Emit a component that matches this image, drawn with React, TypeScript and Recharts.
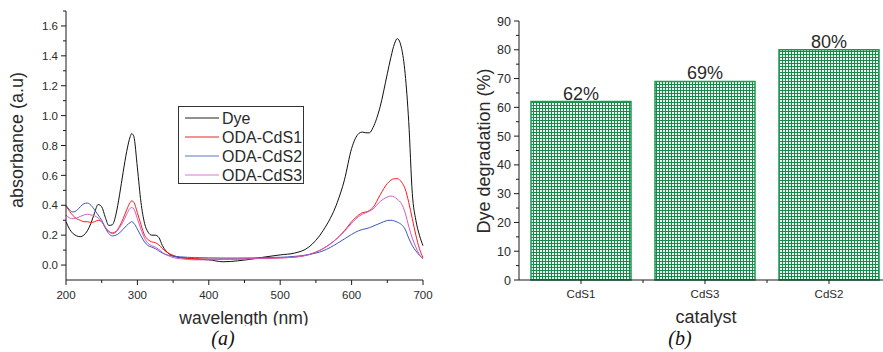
import React from 'react';
import { LineChart, Line, XAxis, YAxis, BarChart, Bar, LabelList } from 'recharts';

// ---------- Panel (a) data ----------
const wavelengths = [200,205,210,215,220,225,230,235,240,245,250,255,260,265,270,275,280,285,290,292,295,300,305,310,315,320,325,330,335,340,350,360,370,380,400,420,440,460,480,500,520,540,560,580,590,600,610,615,620,625,630,640,650,655,660,664,670,675,680,685,690,695,700];
const dye = [0.29,0.24,0.21,0.195,0.19,0.20,0.23,0.28,0.35,0.405,0.39,0.32,0.265,0.27,0.34,0.47,0.62,0.76,0.86,0.88,0.86,0.65,0.42,0.28,0.22,0.20,0.20,0.185,0.13,0.095,0.06,0.05,0.045,0.04,0.035,0.022,0.028,0.04,0.055,0.068,0.08,0.12,0.23,0.42,0.57,0.78,0.88,0.89,0.885,0.885,0.92,1.06,1.28,1.39,1.48,1.515,1.45,1.28,0.96,0.48,0.3,0.2,0.13];
const odaCdS1 = [0.395,0.36,0.33,0.31,0.30,0.29,0.29,0.285,0.29,0.30,0.29,0.25,0.225,0.215,0.225,0.26,0.31,0.37,0.42,0.43,0.42,0.35,0.27,0.2,0.17,0.155,0.15,0.135,0.11,0.09,0.065,0.05,0.045,0.043,0.04,0.04,0.04,0.043,0.045,0.048,0.053,0.07,0.11,0.18,0.23,0.29,0.335,0.35,0.355,0.365,0.385,0.47,0.545,0.568,0.578,0.578,0.555,0.51,0.42,0.31,0.2,0.11,0.05];
const odaCdS2 = [0.40,0.37,0.355,0.365,0.39,0.41,0.415,0.40,0.37,0.335,0.30,0.25,0.21,0.195,0.2,0.215,0.24,0.265,0.285,0.29,0.28,0.24,0.195,0.155,0.13,0.12,0.11,0.095,0.08,0.07,0.06,0.055,0.052,0.05,0.048,0.047,0.047,0.048,0.05,0.052,0.058,0.07,0.095,0.145,0.175,0.205,0.23,0.238,0.243,0.25,0.26,0.28,0.298,0.30,0.295,0.287,0.27,0.24,0.18,0.13,0.095,0.065,0.045];
const odaCdS3 = [0.335,0.315,0.31,0.315,0.325,0.335,0.34,0.335,0.33,0.315,0.29,0.255,0.225,0.21,0.22,0.25,0.29,0.34,0.38,0.385,0.375,0.31,0.24,0.18,0.145,0.13,0.12,0.105,0.085,0.07,0.05,0.042,0.038,0.035,0.035,0.038,0.04,0.042,0.045,0.048,0.053,0.07,0.11,0.18,0.225,0.28,0.325,0.34,0.35,0.36,0.375,0.425,0.455,0.462,0.455,0.44,0.41,0.35,0.26,0.18,0.12,0.07,0.04];

const seriesNames = ['Dye', 'ODA-CdS1', 'ODA-CdS2', 'ODA-CdS3'];
const seriesKeys = ['dye', 'cds1', 'cds2', 'cds3'];
const seriesColors = ['#111111', '#ff1a1a', '#3a58bd', '#d05cc4'];
const legendColors = ['#222222', '#e8242c', '#5a78c8', '#d47cc8'];

const xMajorTicks = [200, 300, 400, 500, 600, 700];
const xMinorTicks = [250, 350, 450, 550, 650];
const yMajorTicks = [0, 0.2, 0.4, 0.6, 0.8, 1.0, 1.2, 1.4, 1.6];
const yMinorTicks = [0.1, 0.3, 0.5, 0.7, 0.9, 1.1, 1.3, 1.5, 1.7];

// ---------- Panel (b) data ----------
const catalysts = ['CdS1', 'CdS3', 'CdS2'];
const degradation = [62, 69, 80];
const degMajorTicks = [0, 10, 20, 30, 40, 50, 60, 70, 80, 90];
const degMinorTicks = [5, 15, 25, 35, 45, 55, 65, 75, 85];

const lineData = wavelengths.map((w, i) => ({
  wl: w,
  dye: dye[i],
  cds1: odaCdS1[i],
  cds2: odaCdS2[i],
  cds3: odaCdS3[i],
}));
const barData = catalysts.map((c, i) => ({ cat: c, deg: degradation[i] }));

const FONT = '"Liberation Sans", Arial, sans-serif';
const TEXT = '#2a2a2a';
const AXIS = '#1a1a1a';
const TICK = 5;
const MINOR = 3;
const MARGIN = 3;

const BottomTick = (props: any) => {
  const { x, y, payload, majors, fmt, fontSize } = props;
  const axisY = y - TICK - MARGIN;
  const isMajor = majors.indexOf(payload.value) >= 0;
  return (
    <g>
      <line x1={x} x2={x} y1={axisY} y2={axisY + (isMajor ? TICK : MINOR)} stroke={AXIS} strokeWidth={1} />
      {isMajor && (
        <text x={x} y={axisY + 19} textAnchor="middle" fontSize={fontSize} fill={TEXT} fontFamily={FONT}>
          {fmt(payload.value)}
        </text>
      )}
    </g>
  );
};

const LeftTick = (props: any) => {
  const { x, y, payload, majors, fmt, fontSize, gap } = props;
  const axisX = x + TICK + MARGIN;
  const isMajor = majors.indexOf(payload.value) >= 0;
  return (
    <g>
      <line x1={axisX - (isMajor ? TICK : MINOR)} x2={axisX} y1={y} y2={y} stroke={AXIS} strokeWidth={1} />
      {isMajor && (
        <text x={axisX - gap} y={y} dy="0.36em" textAnchor="end" fontSize={fontSize} fill={TEXT} fontFamily={FONT}>
          {fmt(payload.value)}
        </text>
      )}
    </g>
  );
};

// Panel (b) geometry
const B_W = 460;
const B_H = 352;
const B_MARGIN = { top: 21, right: 9, bottom: 42, left: 0 };
const B_YW = 79;
const B_BAND = (B_W - B_MARGIN.right - B_MARGIN.left - B_YW) / catalysts.length;

const CategoryTick = (props: any) => {
  const { x, y, payload, index } = props;
  const axisY = y - TICK - MARGIN;
  return (
    <g>
      <line x1={x} x2={x} y1={axisY} y2={axisY + 4} stroke={AXIS} strokeWidth={1} />
      {index < catalysts.length - 1 && (
        <line x1={x + B_BAND / 2} x2={x + B_BAND / 2} y1={axisY} y2={axisY + 3} stroke={AXIS} strokeWidth={1} />
      )}
      <text x={x} y={axisY + 18} textAnchor="middle" fontSize={11.5} fill={TEXT} fontFamily={FONT}>
        {payload.value}
      </text>
    </g>
  );
};

export default function App() {
  const fmtA = (v: number) => v.toFixed(1);
  const fmtInt = (v: number) => String(v);
  return (
    <div style={{ position: 'absolute', left: 0, top: 0, width: 883, height: 352, overflow: 'hidden', background: '#fff' }}>
      <div style={{ position: 'absolute', left: 0, top: 0 }}>
        <LineChart width={440} height={352} data={lineData} margin={{ top: 11, right: 17, bottom: 42, left: 0 }}>
          <XAxis
            dataKey="wl"
            type="number"
            domain={[200, 700]}
            ticks={[...xMajorTicks, ...xMinorTicks]}
            interval={0}
            height={30}
            tickSize={TICK}
            tickMargin={MARGIN}
            tickLine={{ stroke: 'none' }}
            axisLine={{ stroke: AXIS, strokeWidth: 1 }}
            tick={(p: any) => <BottomTick {...p} majors={xMajorTicks} fmt={fmtInt} fontSize={11.5} />}
          />
          <YAxis
            type="number"
            domain={[-0.1, 1.7]}
            ticks={[...yMajorTicks, ...yMinorTicks]}
            interval={0}
            width={66}
            tickSize={TICK}
            tickMargin={MARGIN}
            tickLine={{ stroke: 'none' }}
            axisLine={{ stroke: AXIS, strokeWidth: 1 }}
            allowDataOverflow
            tick={(p: any) => <LeftTick {...p} majors={yMajorTicks} fmt={fmtA} fontSize={11.5} gap={8} />}
          />
          {seriesKeys.map((k, i) => (
            <Line
              key={k}
              dataKey={k}
              name={seriesNames[i]}
              type="monotone"
              stroke={seriesColors[i]}
              strokeWidth={1}
              dot={false}
              activeDot={false}
              isAnimationActive={false}
            />
          ))}
        </LineChart>
      </div>
      <div style={{ position: 'absolute', left: 440, top: 0 }}>
        <BarChart width={B_W} height={B_H} data={barData} margin={B_MARGIN}>
          <defs>
            <pattern id="greenGrid" width="3" height="3" patternUnits="userSpaceOnUse">
              <rect x="0" y="0" width="3" height="3" fill="#eef8f1" />
              <path d="M0 0.5H3M0.5 0V3" stroke="#17894a" strokeWidth="1" />
            </pattern>
          </defs>
          <XAxis
            dataKey="cat"
            type="category"
            height={30}
            interval={0}
            tickSize={TICK}
            tickMargin={MARGIN}
            tickLine={{ stroke: 'none' }}
            axisLine={{ stroke: AXIS, strokeWidth: 1 }}
            tick={(p: any) => <CategoryTick {...p} />}
          />
          <YAxis
            type="number"
            domain={[0, 90]}
            ticks={[...degMajorTicks, ...degMinorTicks]}
            interval={0}
            width={B_YW}
            tickSize={TICK}
            tickMargin={MARGIN}
            tickLine={{ stroke: 'none' }}
            axisLine={{ stroke: AXIS, strokeWidth: 1 }}
            tick={(p: any) => <LeftTick {...p} majors={degMajorTicks} fmt={fmtInt} fontSize={12.5} gap={8} />}
          />
          <Bar dataKey="deg" barSize={100} fill="url(#greenGrid)" stroke="#1f9a55" strokeWidth={1.5} isAnimationActive={false}>
            <LabelList
              dataKey="deg"
              position="top"
              offset={2}
              formatter={(v: any) => `${v}%`}
              style={{ fontSize: 18, fill: TEXT, fontFamily: FONT }}
            />
          </Bar>
        </BarChart>
      </div>
      <svg width={883} height={352} style={{ position: 'absolute', left: 0, top: 0, pointerEvents: 'none' }}>
        <g fontFamily={FONT} fill={TEXT}>
          <text x={23} y={140} fontSize={18} textAnchor="middle" transform="rotate(-90 23 140)">absorbance (a.u)</text>
          <text x={244} y={324} fontSize={17.5} textAnchor="middle">wavelength (nm)</text>
          <text x={490} y={151} fontSize={18} textAnchor="middle" transform="rotate(-90 490 151)">Dye degradation (%)</text>
          <text x={706} y={323} fontSize={18} textAnchor="middle">catalyst</text>
        </g>
        <rect x={100} y={325.5} width={300} height={30} fill="#fff" />
        <g fontFamily={'"Liberation Serif", "Times New Roman", serif'} fontStyle="italic" fontSize={20} fill="#111">
          <text x={223} y={345} textAnchor="middle">(a)</text>
          <text x={680} y={345} textAnchor="middle">(b)</text>
        </g>
        <g>
          <rect x={178.5} y={106.5} width={125} height={77} fill="#fff" stroke="#333" strokeWidth={1} />
          {seriesNames.map((n, i) => (
            <g key={n}>
              <line x1={185} x2={219} y1={118 + i * 19} y2={118 + i * 19} stroke={legendColors[i]} strokeWidth={1} />
              <text x={222} y={118 + i * 19} dy="0.36em" fontSize={16} fontFamily={FONT} fill={TEXT}>{n}</text>
            </g>
          ))}
        </g>
      </svg>
    </div>
  );
}
